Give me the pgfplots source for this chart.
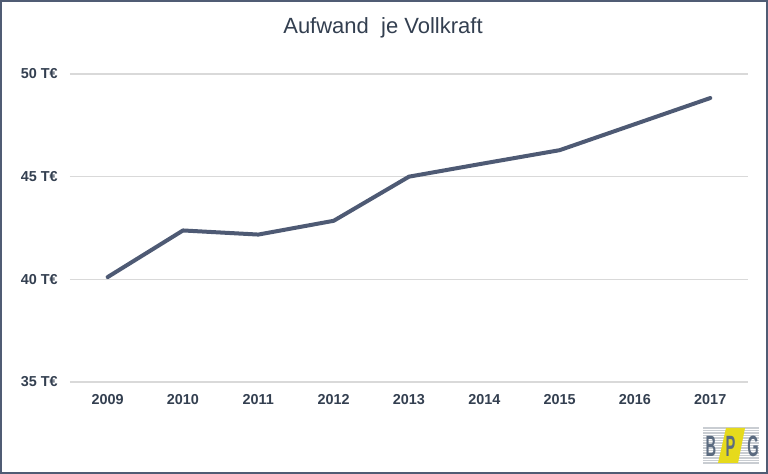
\documentclass[border=0pt]{standalone}
\usepackage{pgfplots}
\pgfplotsset{compat=1.18}
\usepackage{fontspec}
\setmainfont{Liberation Sans}
\definecolor{linec}{HTML}{4E5A74}
\definecolor{txt}{HTML}{333F50}
\definecolor{grid}{HTML}{D9D9D9}
\definecolor{bord}{HTML}{505C74}
\definecolor{logoy}{HTML}{E6DA1C}
\definecolor{logog}{HTML}{C9CDD2}
\definecolor{logob}{HTML}{5B6B80}
\begin{document}
\begin{tikzpicture}[x=0.75pt,y=0.75pt]
\useasboundingbox (0,0) rectangle (768,474);
\fill[white] (0,0) rectangle (768,474);
\begin{axis}[
  at={(52.5pt,69pt)}, anchor=south west,
  scale only axis, width=508.5pt, height=231pt,
  xmin=2008.5, xmax=2017.5, ymin=35, ymax=50,
  xtick={2009,...,2017}, ytick={35,40,45,50},
  axis line style={draw=none}, major tick length=0pt,
  ymajorgrids, major grid style={color=grid, line width=0.9pt},
  /pgf/number format/assume math mode=true,
  /pgf/number format/1000 sep={},
  ticklabel style={font=\fontsize{10.8}{12}\selectfont\bfseries, text=txt},
  xticklabel style={yshift=-5.6pt},
  yticklabel style={xshift=-5.7pt},
  yticklabel={\pgfmathprintnumber{\tick}~T€},
]
\addplot[color=linec, line width=3pt, line join=round, line cap=round] coordinates {
(2009,40.11) (2010,42.38) (2011,42.18) (2012,42.85) (2013,45.00)
(2014,45.65) (2015,46.29) (2016,47.56) (2017,48.83)};
\end{axis}
\node[text=txt, font=\fontsize{16.5}{18}\selectfont] at (383,446) {Aufwand\ \ je Vollkraft};
% logo
\begin{scope}
\foreach \yy in {11,13.5,...,46} {\draw[logog, line width=0.9] (703,\yy) -- (759,\yy);}
\fill[logoy] (718,11) -- (738,11) -- (745,46) -- (726,46) -- cycle;
\node[text=logob, font=\fontsize{22}{22}\selectfont\bfseries, xscale=0.5, inner sep=0] at (711,27.5) {B};
\node[text=logob, font=\fontsize{22}{22}\selectfont\bfseries, xscale=0.5, inner sep=0] at (730.5,27.5) {P};
\node[text=logob, font=\fontsize{22}{22}\selectfont\bfseries, xscale=0.5, inner sep=0] at (753,27.5) {G};
\end{scope}
\draw[bord, line width=1.5] (0.75,0.75) rectangle (767.25,473.25);
\end{tikzpicture}
\end{document}
